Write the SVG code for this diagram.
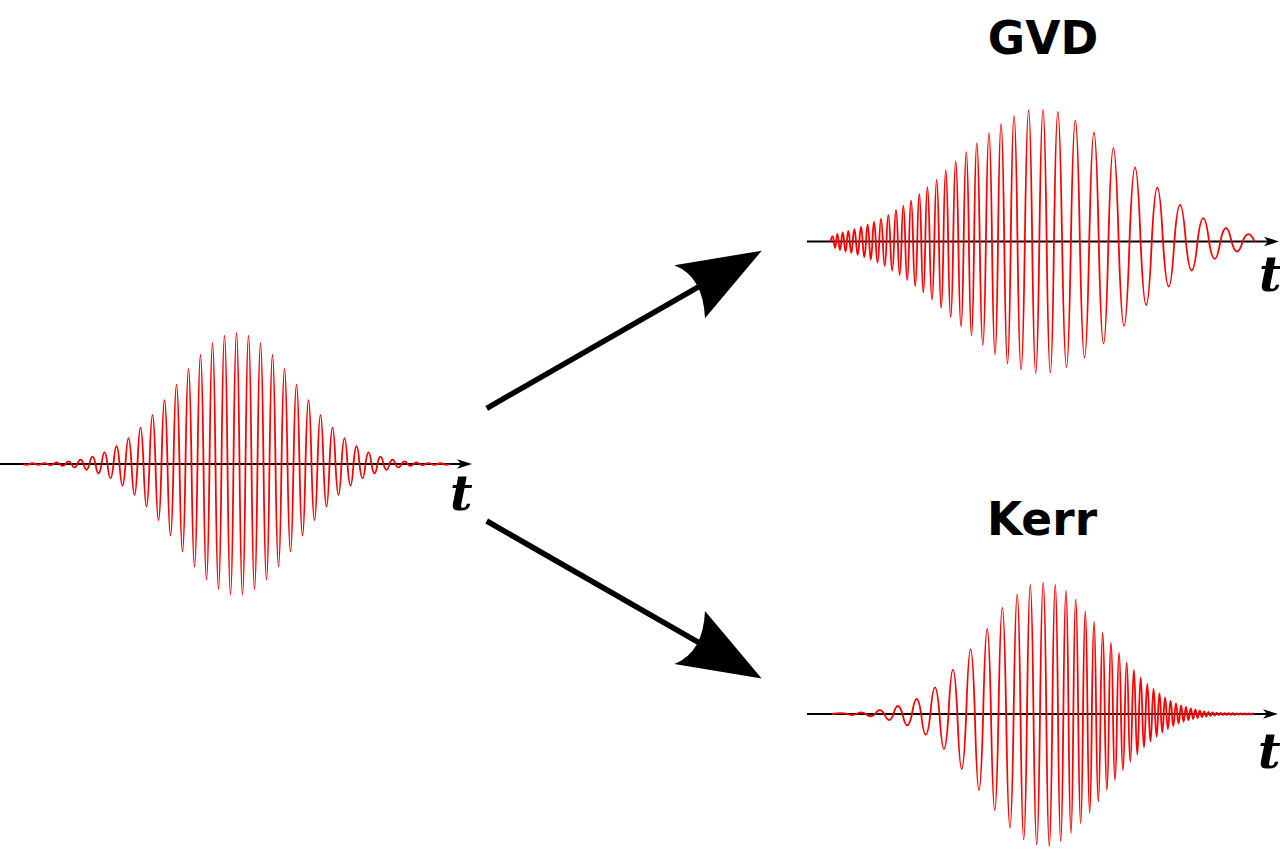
<svg xmlns="http://www.w3.org/2000/svg" width="1280" height="865" viewBox="0 0 1280 865">
<style>
.axis{stroke:#000;stroke-width:2;fill:none}
.head{fill:#000;stroke:none}
.wave{stroke:#f00;stroke-width:1.8;fill:none;stroke-linejoin:round}
.tl{font-family:"DejaVu Serif","Liberation Serif",serif;font-weight:bold;font-style:italic;font-size:49px;fill:#000}
.title{font-family:"DejaVu Sans","Liberation Sans",sans-serif;font-weight:bold;font-size:45.5px;fill:#000;text-anchor:middle}
.big{stroke:#000;stroke-width:5.5;fill:none}
</style>
<rect width="1280" height="865" fill="#fff"/>

<g id="pulse-input">
<line class="axis" x1="0" y1="464" x2="463" y2="464"/>
<path class="head" d="M472,464 L457,459.2 L461,464 L457,468.8 Z"/>
<path class="wave" transform="translate(0,464)" d="M23.5,0 q3,1.5 6,0 q3,-1.5 6,0 q3,1.5 6,0 q3,-1.6 6,0 q3,2.1 6,0 q3,-2.9 6,0 q3,3.9 6,0 q3,-5.2 6,0 q3,6.8 6,0 q3,-8.9 6,0 q3,11.5 6,0 q3,-14.7 6,0 q3,18.6 6,0 q3,-23.3 6,0 q3,28.9 6,0 q3,-35.5 6,0 q3,43.1 6,0 q3,-51.9 6,0 q3,61.8 6,0 q3,-72.8 6,0 q3,85.1 6,0 q3,-98.3 6,0 q3,112.6 6,0 q3,-127.5 6,0 q3,143.1 6,0 q3,-158.9 6,0 q3,174.8 6,0 q3,-190.2 6,0 q3,205.1 6,0 q3,-218.8 6,0 q3,231.2 6,0 q3,-241.9 6,0 q3,250.5 6,0 q3,-256.8 6,0 q3,260.7 6,0 q3,-262 6,0 q3,260.7 6,0 q3,-256.8 6,0 q3,250.5 6,0 q3,-241.9 6,0 q3,231.2 6,0 q3,-218.8 6,0 q3,205.1 6,0 q3,-190.2 6,0 q3,174.8 6,0 q3,-158.9 6,0 q3,143.1 6,0 q3,-127.5 6,0 q3,112.6 6,0 q3,-98.3 6,0 q3,85.1 6,0 q3,-72.8 6,0 q3,61.8 6,0 q3,-51.9 6,0 q3,43.1 6,0 q3,-35.5 6,0 q3,28.9 6,0 q3,-23.3 6,0 q3,18.6 6,0 q3,-14.7 6,0 q3,11.5 6,0 q3,-8.9 6,0 q3,6.8 6,0 q3,-5.2 6,0 q3,3.9 6,0 q3,-2.9 6,0 q3,2.1 6,0 q3,-1.6 6,0 q3,1.5 6,0 q3,-1.5 6,0 q3,1.5 6,0"/>
<text class="tl" x="450" y="510">t</text>
</g>

<g id="pulse-gvd">
<text class="title" x="1043" y="54">GVD</text>
<line class="axis" x1="807" y1="241.5" x2="1270" y2="241.5"/>
<path class="head" d="M1279,241.5 L1264,236.7 L1268,241.5 L1264,246.3 Z"/>
<path class="wave" transform="translate(0,241.5)" d="M830.5,0 Q832.7,-10 833.85,0 Q835,13 836.15,0 Q837.3,-15.4 838.65,0 Q840,17 841.35,0 Q842.7,-18.4 844.1,0 Q845.5,20 846.9,0 Q848.3,-21.4 849.8,0 Q851.3,23 852.8,0 Q854.3,-24.6 856,0 Q857.7,26.6 859.35,0 Q861,-29 862.65,0 Q864.3,31 866,0 Q867.7,-33.6 869.25,0 Q870.8,36 872.4,0 Q874,-39 875.75,0 Q877.5,42 879.25,0 Q881,-45.4 882.85,0 Q884.7,49 886.5,0 Q888.3,-53.4 890.25,0 Q892.2,58 894.1,0 Q896,-63.4 897.85,0 Q899.7,67 901.5,0 Q903.3,-71.4 905.25,0 Q907.2,77 909.1,0 Q911,-82 913.1,0 Q915.2,89 917.25,0 Q919.3,-95.4 921.3,0 Q923.3,102 925.3,0 Q927.3,-108.6 929.65,0 Q932,116 934.35,0 Q936.7,-123.4 938.95,0 Q941.2,133 943.45,0 Q945.7,-142 948.2,0 Q950.7,151 953.2,0 Q955.7,-160 958.35,0 Q961,170 963.65,0 Q966.3,-178.6 968.9,0 Q971.5,188 974.1,0 Q976.7,-196.6 979.75,0 Q982.8,207 985.9,0 Q989,-216.6 992,0 Q995,226 998,0 Q1001,-235.4 1004.25,0 Q1007.5,244 1010.75,0 Q1014,-251.4 1017.5,0 Q1021,256 1024.85,0 Q1028.7,-262 1032.2,0 Q1035.7,263 1039.35,0 Q1043,-263.4 1046.65,0 Q1050.3,262 1054,0 Q1057.7,-259 1062.1,0 Q1066.5,251 1070.9,0 Q1075.3,-242 1079.9,0 Q1084.5,232 1089.25,0 Q1094,-218 1098.75,0 Q1103.5,204 1108.4,0 Q1113.3,-186.6 1118.65,0 Q1124,168.6 1129.5,0 Q1135,-148 1140.6,0 Q1146.2,127 1151.75,0 Q1157.3,-108 1163,0 Q1168.7,90 1174.35,0 Q1180,-73.4 1185.85,0 Q1191.7,58 1197.5,0 Q1203.3,-46.6 1209,0 Q1214.7,34.6 1220.35,0 Q1226,-27 1231.5,0 Q1237,20 1242.65,0 Q1248.3,-14.6 1254.5,0"/>
<text class="tl" x="1259" y="291">t</text>
</g>

<g id="pulse-kerr">
<text class="title" x="1042" y="535">Kerr</text>
<line class="axis" x1="807" y1="714" x2="1269" y2="714"/>
<path class="head" d="M1278,714 L1263,709.2 L1267,714 L1263,718.8 Z"/>
<path class="wave" transform="translate(0,714)" d="M832,0 Q842.5,-1.6 847.25,0 Q852,2 856.5,0 Q861,-3 865.9,0 Q870.8,4.6 875.15,0 Q879.5,-7.6 884.4,0 Q889.3,12 893.5,0 Q897.7,-16 902.5,0 Q907.3,22.6 912,0 Q916.7,-30 921.2,0 Q925.7,41.4 930.35,0 Q935,-53.4 939.5,0 Q944,70 948.5,0 Q953,-88.6 957.35,0 Q961.7,110 966.2,0 Q970.7,-129.4 974.85,0 Q979,152 983.15,0 Q987.3,-170 991,0 Q994.7,192 998.5,0 Q1002.3,-212.6 1006.15,0 Q1010,227.4 1013.65,0 Q1017.3,-239.4 1020.5,0 Q1023.7,250.6 1027,0 Q1030.3,-258 1033.5,0 Q1036.7,260.6 1040,0 Q1043.3,-262.6 1046.3,0 Q1049.3,264 1052.3,0 Q1055.3,-258 1058,0 Q1060.7,254 1063.35,0 Q1066,-246 1068.5,0 Q1071,238 1073.35,0 Q1075.7,-229 1078.2,0 Q1080.7,218.6 1083,0 Q1085.3,-205 1087.5,0 Q1089.7,197 1091.85,0 Q1094,-184 1096.15,0 Q1098.3,175 1100.5,0 Q1102.7,-162 1104.8,0 Q1106.9,152 1108.95,0 Q1111,-142 1113,0 Q1115,132 1117.05,0 Q1119.1,-122 1121,0 Q1122.9,112 1124.8,0 Q1126.7,-102.6 1128.5,0 Q1130.3,95 1132.1,0 Q1133.9,-88 1135.6,0 Q1137.3,81 1139,0 Q1140.7,-73 1142.35,0 Q1144,67 1145.65,0 Q1147.3,-60 1148.9,0 Q1150.5,55 1152.05,0 Q1153.6,-50 1155.1,0 Q1156.6,45 1158.05,0 Q1159.5,-41 1160.9,0 Q1162.3,37 1163.7,0 Q1165.1,-33 1166.5,0 Q1167.9,30 1169.25,0 Q1170.6,-26.6 1171.95,0 Q1173.3,24 1174.65,0 Q1176,-21.4 1177.3,0 Q1178.6,19 1179.85,0 Q1181.1,-17.4 1182.35,0 Q1183.6,15.6 1184.8,0 Q1186,-14 1187.2,0 Q1188.4,12.4 1189.6,0 Q1190.8,-11.2 1191.95,0 Q1193.1,10 1194.25,0 Q1195.4,-8.8 1196.5,0 Q1197.6,7.8 1198.7,0 Q1199.8,-6.8 1200.9,0 Q1202,6 1203.1,0 Q1204.2,-5.4 1205.25,0 Q1206.3,4.8 1207.35,0 Q1208.4,-4.2 1209.45,0 Q1210.5,3.8 1211.55,0 Q1212.6,-3.4 1213.65,0 Q1214.7,3 1215.7,0 Q1216.7,-2.6 1217.7,0 Q1218.7,2.4 1219.7,0 Q1220.7,-2.2 1221.7,0 Q1222.7,2 1223.7,0 q1,-1.8 2,0 q1,1.8 2,0 q1,-1.6 2,0 q1,1.6 2,0 q1,-1.6 2,0 q1,1.6 2,0 q1,-1.4 2,0 q1,1.4 2,0 q1,-1.4 2,0 q1,1.4 2,0 q1,-1.2 2,0 q1,1.2 2,0 q1,-1.2 2,0 q1,1.2 2,0 q1,-1 2,0"/>
<text class="tl" x="1258" y="768">t</text>
</g>

<g id="connectors">
<line class="big" x1="486.7" y1="408.3" x2="705" y2="283.2"/>
<path class="head" d="M761.7,250.7 L674.3,265.3 Q703.3,276.7 705,318.3 Z"/>
<line class="big" x1="486.7" y1="521" x2="705" y2="646.1"/>
<path class="head" d="M761.7,678.6 L674.3,664 Q703.3,652.6 705,611 Z"/>
</g>
</svg>
